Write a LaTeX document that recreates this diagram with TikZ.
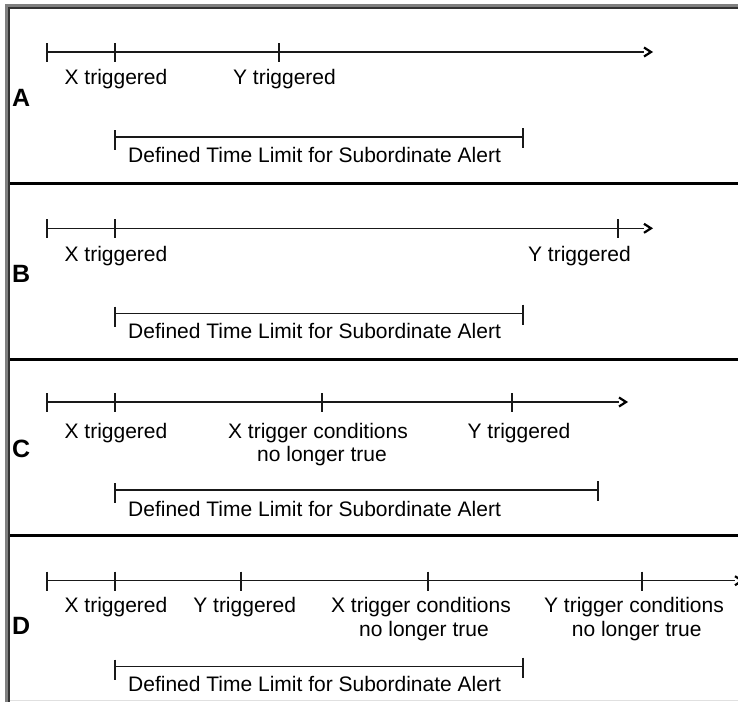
\documentclass[tikz,border=0pt]{standalone}
\usepackage{fontspec}
\setmainfont{Liberation Sans}
\begin{document}
\begin{tikzpicture}[x=1pt,y=-1pt,
  tl/.style={line width=1.5pt,black!90},
  tk/.style={line width=1.7pt,black!90},
  chev/.style={line width=2.2pt,black,line cap=butt,line join=miter},
  sep/.style={line width=2.6pt,black},
  lbl/.style={inner sep=0pt,anchor=base,font=\fontsize{21}{23}\selectfont,text=black},
  dlbl/.style={inner sep=0pt,anchor=base west,font=\fontsize{21}{23}\selectfont,text=black},
  letter/.style={inner sep=0pt,anchor=base west,font=\fontsize{25}{27}\selectfont\bfseries,text=black}]
\useasboundingbox (0,0) rectangle (738,702);
\fill[white] (0,0) rectangle (738,702);
\clip (0,0) rectangle (738,702);
% frame
\fill[black!50] (5,4) rectangle (8,702);
\fill[black!50] (5,4) rectangle (738,7);
\fill[black!80] (8,7) rectangle (10,702);
\fill[black!80] (8,7) rectangle (738,9);
\draw[black!12,line width=1.5pt] (10,700.5) -- (738,700.5);
% separators
\coordinate (s1l) at (10,183.5); \coordinate (s1r) at (738,183.5);
\coordinate (s2l) at (10,359.5); \coordinate (s2r) at (738,359.5);
\coordinate (s3l) at (10,535.5); \coordinate (s3r) at (738,535.5);
\draw[sep] (s1l) -- (s1r);
\draw[sep] (s2l) -- (s2r);
\draw[sep] (s3l) -- (s3r);

% ================= A =================
\coordinate (A0) at (47,52); \coordinate (A1) at (115,52); \coordinate (A2) at (279,52);
\coordinate (Ae) at (644,52); \coordinate (At) at (651,52);
\draw[tl] (A0) -- (A1) -- (A2) -- (Ae);
\foreach \p in {A0,A1,A2} \draw[tk] ([yshift=9pt]\p) -- ([yshift=-10pt]\p);
\draw[chev] ([yshift=4.5pt]Ae) -- (At) -- ([yshift=-4.5pt]Ae);
\node[lbl] (AX) at (116,84.3) {X triggered};
\node[lbl] (AY) at (284.5,84.3) {Y triggered};
\node[letter] (AL) at (12,106) {A};
\coordinate (AD0) at (115,137); \coordinate (AD1) at (523,137);
\draw[tl] (AD0) -- (AD1);
\draw[tk] ([yshift=7pt]AD0) -- ([yshift=-13pt]AD0);
\draw[tk] ([yshift=9pt]AD1) -- ([yshift=-11pt]AD1);
\node[dlbl] (AD) at (128,162.3) {Defined Time Limit for Subordinate Alert};

% ================= B =================
\coordinate (B0) at (47,228.3); \coordinate (B1) at (115,228.3); \coordinate (B2) at (618,228.3);
\coordinate (Be) at (644,228.3); \coordinate (Bt) at (651,228.3);
\draw[tl] (B0) -- (B1) -- (B2) -- (Be);
\foreach \p in {B0,B1,B2} \draw[tk] ([yshift=9pt]\p) -- ([yshift=-10pt]\p);
\draw[chev] ([yshift=4.5pt]Be) -- (Bt) -- ([yshift=-4.5pt]Be);
\node[lbl] (BX) at (116,261) {X triggered};
\node[lbl] (BY) at (579.5,261) {Y triggered};
\node[letter] (BL) at (12,282) {B};
\coordinate (BD0) at (115,313.5); \coordinate (BD1) at (523,313.5);
\draw[tl] (BD0) -- (BD1);
\draw[tk] ([yshift=7pt]BD0) -- ([yshift=-13pt]BD0);
\draw[tk] ([yshift=9pt]BD1) -- ([yshift=-11pt]BD1);
\node[dlbl] (BD) at (128,338.8) {Defined Time Limit for Subordinate Alert};

% ================= C =================
\coordinate (C0) at (47,402); \coordinate (C1) at (115,402); \coordinate (C2) at (322,402);
\coordinate (C3) at (512,402);
\coordinate (Ce) at (619,402); \coordinate (Ct) at (626,402);
\draw[tl] (C0) -- (C1) -- (C2) -- (C3) -- (Ce);
\foreach \p in {C0,C1,C2,C3} \draw[tk] ([yshift=9pt]\p) -- ([yshift=-10pt]\p);
\draw[chev] ([yshift=4.5pt]Ce) -- (Ct) -- ([yshift=-4.5pt]Ce);
\node[lbl] (CX) at (116,438.3) {X triggered};
\node[lbl] (CXc1) at (318,438.3) {X trigger conditions};
\node[lbl] (CXc2) at (322,461) {no longer true};
\node[lbl] (CY) at (519,438.3) {Y triggered};
\node[letter] (CL) at (12,457) {C};
\coordinate (CD0) at (115,490); \coordinate (CD1) at (598,490);
\draw[tl] (CD0) -- (CD1);
\draw[tk] ([yshift=7pt]CD0) -- ([yshift=-13pt]CD0);
\draw[tk] ([yshift=9pt]CD1) -- ([yshift=-11pt]CD1);
\node[dlbl] (CD) at (128,516.5) {Defined Time Limit for Subordinate Alert};

% ================= D =================
\coordinate (D0) at (47,580.7); \coordinate (D1) at (115,580.7); \coordinate (D2) at (241,580.7);
\coordinate (D3) at (428,580.7); \coordinate (D4) at (642,580.7);
\coordinate (De) at (735,580.7); \coordinate (Dt) at (742,580.7);
\draw[tl] (D0) -- (D1) -- (D2) -- (D3) -- (D4) -- (De);
\foreach \p in {D0,D1,D2,D3,D4} \draw[tk] ([yshift=9pt]\p) -- ([yshift=-10pt]\p);
\draw[chev] ([yshift=4.5pt]De) -- (Dt) -- ([yshift=-4.5pt]De);
\node[lbl] (DX) at (116,612) {X triggered};
\node[lbl] (DY) at (244.7,612) {Y triggered};
\node[lbl] (DXc1) at (421,612) {X trigger conditions};
\node[lbl] (DXc2) at (424,636) {no longer true};
\node[lbl] (DYc1) at (634,612) {Y trigger conditions};
\node[lbl] (DYc2) at (636.7,636) {no longer true};
\node[letter] (DL) at (12,634) {D};
\coordinate (DD0) at (115,666.7); \coordinate (DD1) at (523,666.7);
\draw[tl] (DD0) -- (DD1);
\draw[tk] ([yshift=7pt]DD0) -- ([yshift=-13pt]DD0);
\draw[tk] ([yshift=9pt]DD1) -- ([yshift=-11pt]DD1);
\node[dlbl] (DD) at (128,691.7) {Defined Time Limit for Subordinate Alert};
\end{tikzpicture}
\end{document}
